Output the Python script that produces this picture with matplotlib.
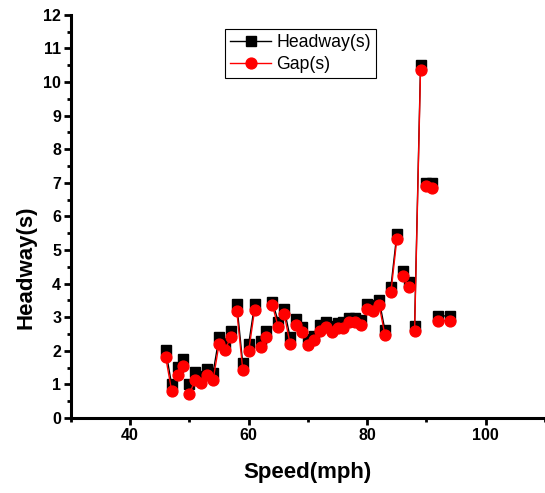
import numpy as np
import matplotlib
matplotlib.use("Agg")
import matplotlib.pyplot as plt
from matplotlib.ticker import MultipleLocator
from matplotlib.lines import Line2D

speed = [46, 47, 48, 49, 50, 51, 52, 53, 54, 55, 56, 57, 58, 59, 60, 61, 62, 63,
         64, 65, 66, 67, 68, 69, 70, 71, 72, 73, 74, 75, 76, 77, 78, 79, 80, 81,
         82, 83, 84, 85, 86, 87, 88, 89, 90, 91, 92, 94]
headway = [2.02, 1.00, 1.51, 1.77, 1.00, 1.37, 1.26, 1.47, 1.35, 2.40, 2.22, 2.60,
           3.38, 1.63, 2.19, 3.38, 2.29, 2.60, 3.46, 2.87, 3.24, 2.40, 2.94, 2.72,
           2.34, 2.44, 2.77, 2.87, 2.74, 2.82, 2.87, 2.99, 2.99, 2.92, 3.39, 3.35,
           3.52, 2.61, 3.90, 5.47, 4.37, 4.04, 2.74, 10.51, 7.00, 7.00, 3.04, 3.04]
gap = [1.81, 0.82, 1.28, 1.56, 0.73, 1.13, 1.03, 1.27, 1.13, 2.20, 2.02, 2.42,
       3.18, 1.44, 1.99, 3.21, 2.12, 2.42, 3.36, 2.70, 3.09, 2.20, 2.77, 2.57,
       2.17, 2.32, 2.60, 2.72, 2.57, 2.67, 2.69, 2.87, 2.87, 2.77, 3.24, 3.20,
       3.37, 2.46, 3.74, 5.32, 4.24, 3.89, 2.60, 10.36, 6.90, 6.85, 2.90, 2.90]


def two_point_segments(x, y):
    """Connect points in consecutive pairs (Origin '2 point segment')."""
    xs, ys = [], []
    for i in range(0, len(x), 2):
        xs += list(x[i:i + 2]) + [np.nan]
        ys += list(y[i:i + 2]) + [np.nan]
    return np.array(xs, float), np.array(ys, float)


plt.rcParams['font.family'] = ['Liberation Sans', 'DejaVu Sans']

fig = plt.figure(figsize=(5.45, 4.93), dpi=100)
ax = fig.add_axes([0.130, 0.152, 0.870, 0.818])

hx, hy = two_point_segments(speed, headway)
gx, gy = two_point_segments(speed, gap)

ax.plot(hx, hy, color='black', lw=1.0, zorder=2)
ax.plot(speed, headway, ls='none', marker='s', ms=6.8, color='black', zorder=3)
ax.plot(gx, gy, color='red', lw=1.0, zorder=4)
ax.plot(speed, gap, ls='none', marker='o', ms=7.8, color='red', zorder=5)

handles = [Line2D([], [], color='black', lw=1.0, marker='s', ms=6.8),
           Line2D([], [], color='red', lw=1.0, marker='o', ms=7.8)]
leg = ax.legend(handles, ['Headway(s)', 'Gap(s)'], loc='upper left',
                bbox_to_anchor=(0.325, 0.966), frameon=True, fancybox=False,
                framealpha=1, edgecolor='black', fontsize=12.7,
                handlelength=2.3, handletextpad=0.3, borderpad=0.3,
                labelspacing=0.3, borderaxespad=0)
leg.get_frame().set_linewidth(0.8)

ax.set_xlim(30, 110)
ax.set_ylim(0, 12)
ax.xaxis.set_major_locator(MultipleLocator(20))
ax.xaxis.set_minor_locator(MultipleLocator(10))
ax.yaxis.set_major_locator(MultipleLocator(1))
ax.yaxis.set_minor_locator(MultipleLocator(0.5))

for s in ['top', 'right']:
    ax.spines[s].set_visible(False)
for s in ['left', 'bottom']:
    ax.spines[s].set_linewidth(2.2)

ax.tick_params(which='major', direction='out', length=5, width=2, labelsize=11.5, pad=2)
ax.tick_params(which='minor', direction='out', length=3, width=2)
for lab in ax.get_xticklabels() + ax.get_yticklabels():
    lab.set_fontweight('bold')

ax.set_xlabel('Speed(mph)', fontsize=16, fontweight='bold')
ax.xaxis.set_label_coords(0.5, -0.108)
ax.set_ylabel('Headway(s)', fontsize=16, fontweight='bold')
ax.yaxis.set_label_coords(-0.072, 0.375)

fig.savefig('out.png', dpi=100)
